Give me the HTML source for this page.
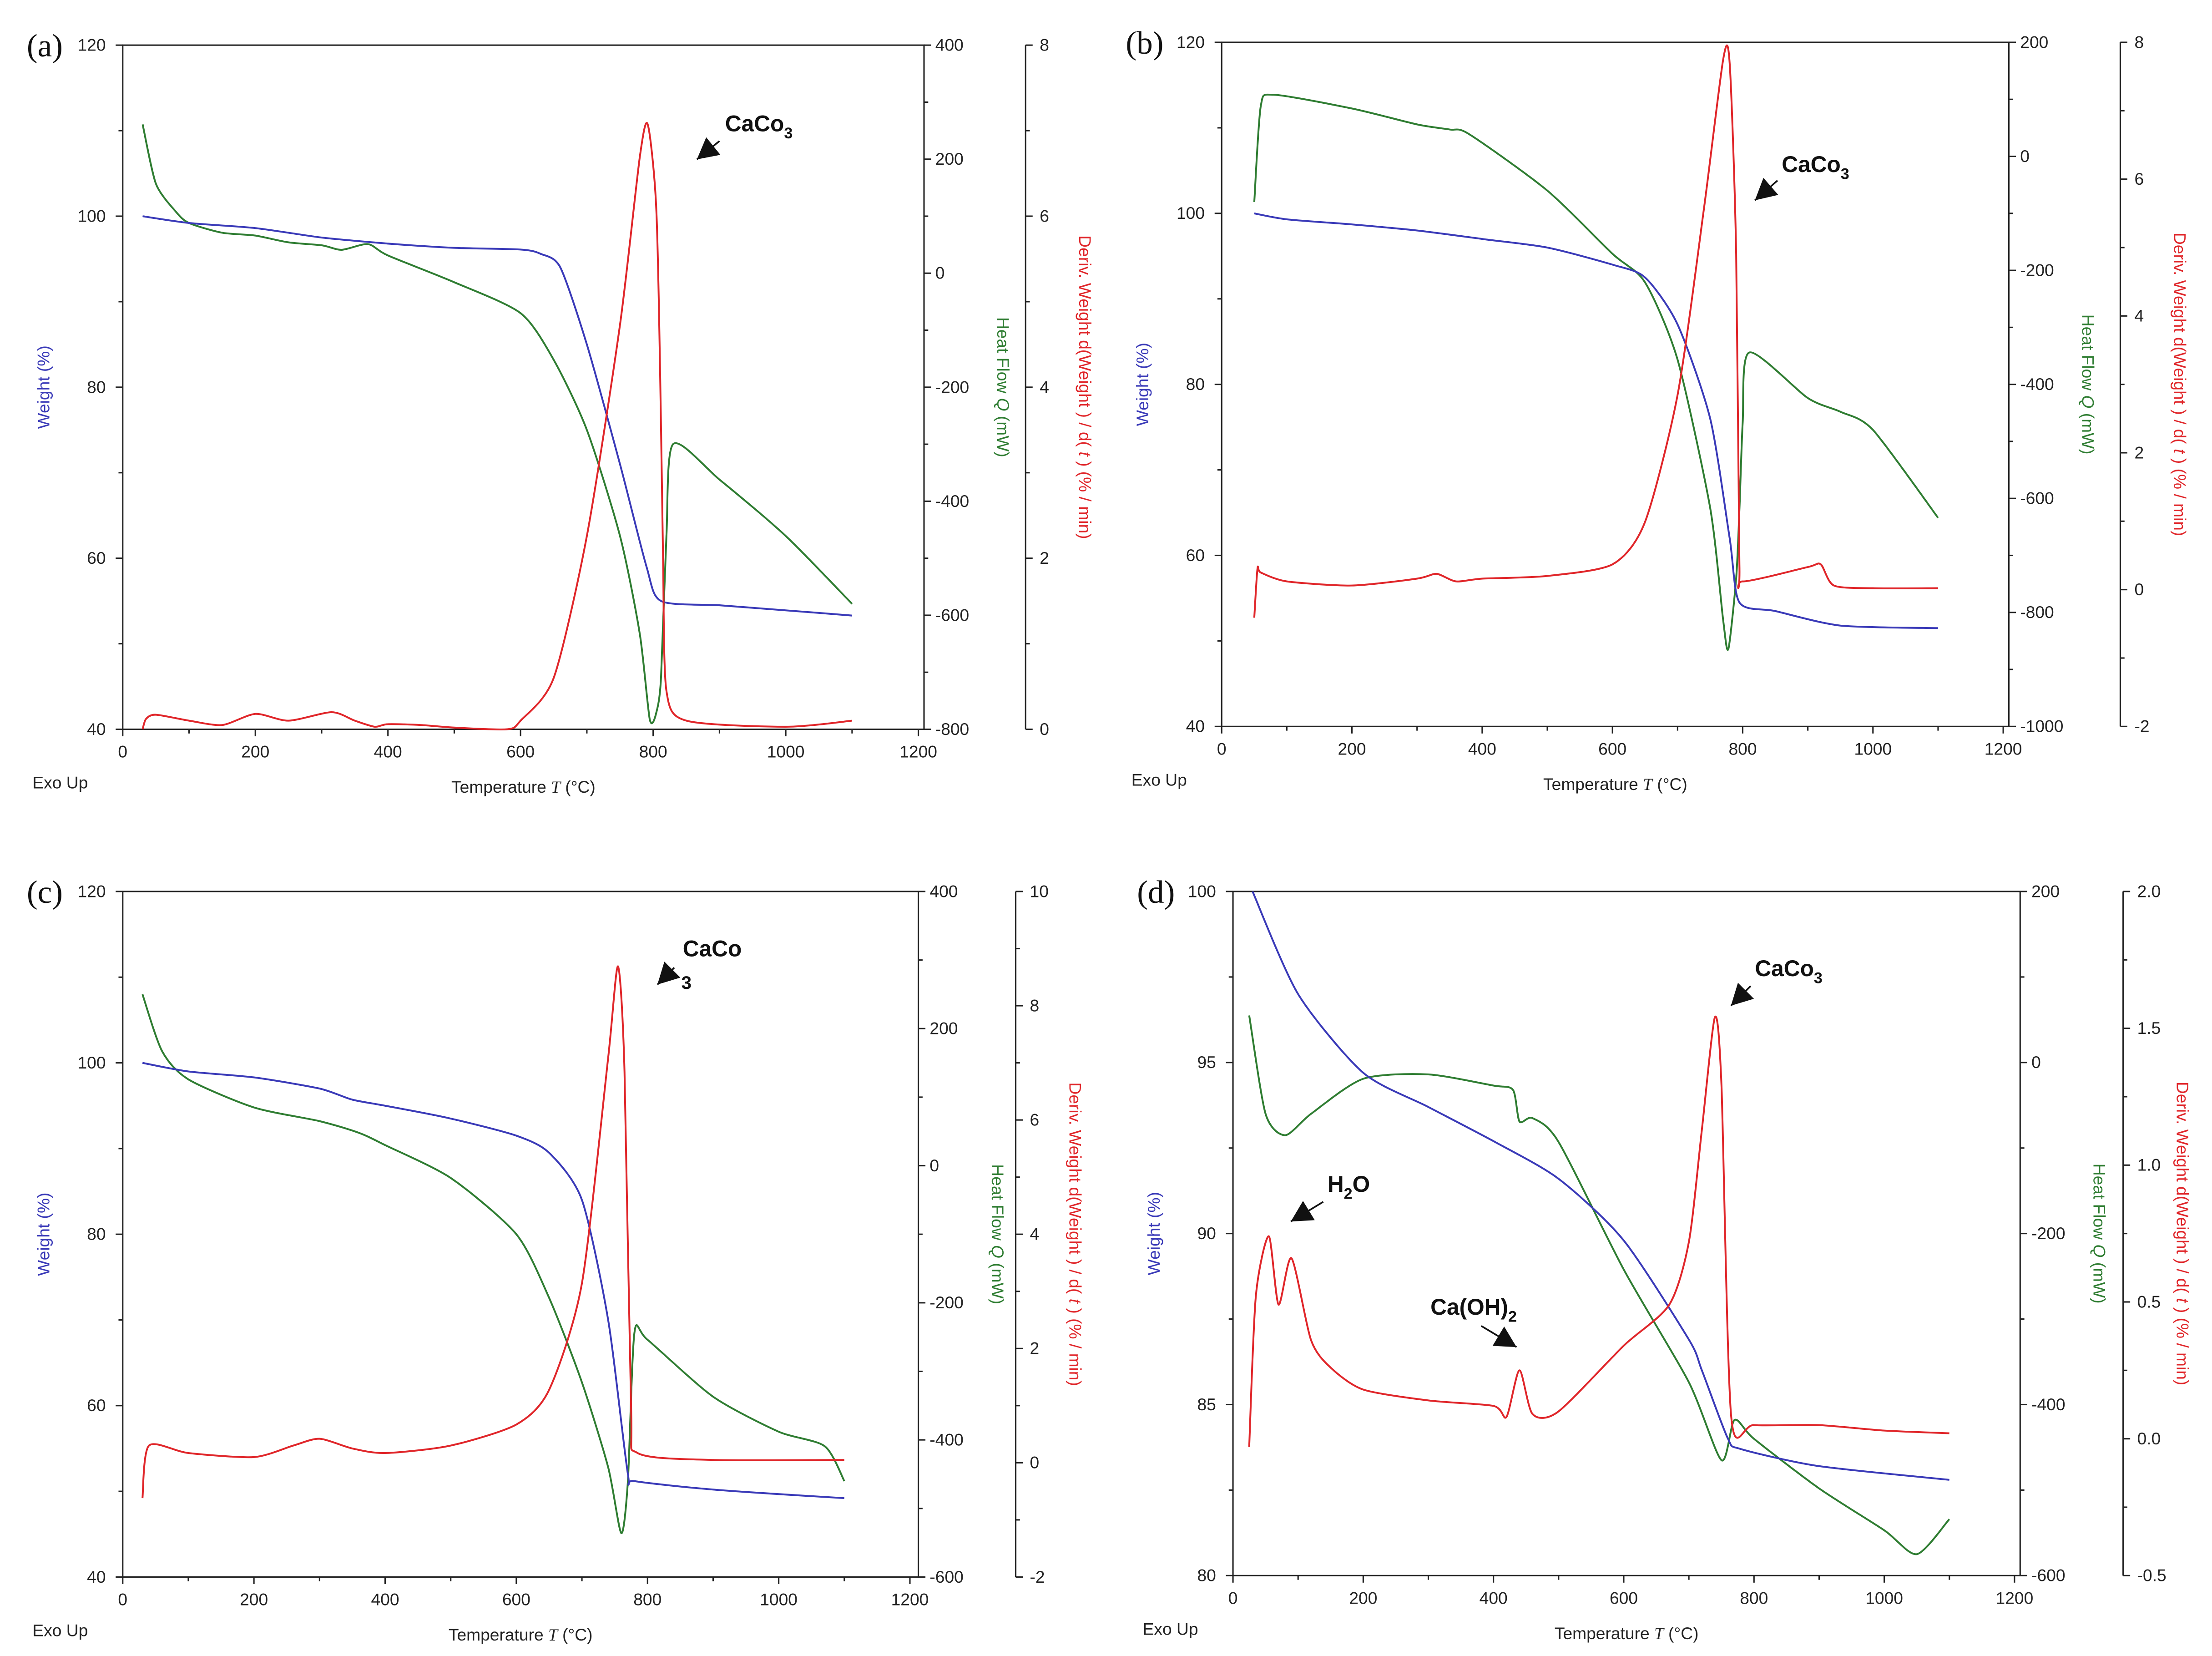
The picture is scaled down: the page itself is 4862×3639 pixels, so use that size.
<!DOCTYPE html>
<html><head><meta charset="utf-8"><style>
html,body{margin:0;padding:0;background:#fff}
svg{display:block}
</style></head><body>
<svg id="fig" xmlns="http://www.w3.org/2000/svg" width="4862" height="3639" viewBox="0 0 1568 1174" preserveAspectRatio="none" font-family="Liberation Sans, sans-serif">
<rect x="0" y="0" width="1568" height="1174" fill="#fff"/>
</svg>
<script>
// ---- Panel (a) data ----
const aWT=[30,100,200,300,400,500,600,630,660,700,750,790,812,900,1000,1100];
const aW=[100,99.2,98.6,97.5,96.8,96.3,96.1,95.6,94,85,71,59,55,54.5,53.9,53.3];
const aHT=[30,50,80,100,150,200,250,300,330,370,400,500,600,650,700,750,780,795,805,812,820,830,900,1000,1100];
const aH=[261,157,108,88,71,66,54,49,41,51,31,-16,-70,-152,-275,-461,-634,-783,-770,-708,-461,-300,-362,-461,-580];
const aDT=[30,35,50,100,150,200,250,315,350,380,400,450,500,580,600,650,700,750,780,792,805,812,815,820,850,1000,1100];
const aD=[0,0.12,0.17,0.1,0.05,0.18,0.1,0.2,0.1,0.03,0.06,0.05,0.02,0,0.1,0.6,2.26,4.73,6.7,7.07,6.05,3.5,1.9,0.45,0.1,0.03,0.1];
// ---- Panel (b) data ----
const bWT=[50,100,200,300,400,500,600,650,700,750,780,795,850,950,1100];
const bW=[100,99.3,98.7,98,97,96,94,92.5,87,76,62,54.5,53.5,51.8,51.5];
const bHT=[50,60,80,200,300,350,380,500,600,650,700,750,770,778,790,795,800,810,900,950,1000,1100];
const bH=[-80,88,108,84,56,47,39,-60,-171,-221,-357,-617,-814,-864,-740,-620,-468,-344,-424,-448,-480,-634];
const bDT=[50,55,60,100,200,300,330,360,400,500,600,650,700,740,770,780,790,795,800,900,920,940,1000,1100];
const bD=[-0.41,0.31,0.25,0.12,0.06,0.16,0.23,0.12,0.16,0.2,0.37,0.99,2.85,5.53,7.75,7.69,4.9,0.37,0.12,0.33,0.37,0.06,0.02,0.02];
// ---- Panel (c) data ----
const cWT=[30,100,200,300,350,400,500,600,650,700,740,770,780,900,1100];
const cW=[100,99,98.3,97,95.7,95,93.5,91.5,89.5,84,70,52,51.2,50.2,49.2];
const cHT=[30,60,100,200,300,360,400,500,600,650,700,740,760,770,780,800,900,1000,1070,1100];
const cH=[250,167,126,85,65,48,30,-18,-100,-193,-316,-440,-536,-460,-244,-254,-337,-388,-409,-460];
const cDT=[30,40,100,200,260,300,350,400,500,600,650,700,740,755,765,775,785,900,1100];
const cD=[-0.62,0.3,0.17,0.1,0.3,0.42,0.25,0.17,0.3,0.67,1.28,3.14,7.09,8.69,6.84,0.91,0.17,0.05,0.05];
// ---- Panel (d) data ----
const dWT=[30,100,200,300,400,500,600,700,720,760,780,900,1100];
const dW=[100,97,94.7,93.7,92.7,91.6,89.8,86.9,86,84,83.7,83.2,82.8];
const dHT=[25,50,80,120,200,300,400,430,440,460,500,600,700,750,770,800,900,1000,1050,1100];
const dH=[55,-60,-85,-60,-19,-14,-27,-32,-69,-65,-93,-242,-374,-465,-418,-440,-498,-547,-575,-534];
const dDT=[25,35,55,70,90,120,150,200,300,400,420,440,460,500,600,670,700,720,740,750,765,800,900,1000,1100];
const dD=[-0.03,0.52,0.74,0.49,0.66,0.36,0.26,0.18,0.14,0.12,0.08,0.25,0.09,0.1,0.34,0.49,0.72,1.13,1.54,1.29,0.08,0.05,0.05,0.03,0.02];

const NS='http://www.w3.org/2000/svg';
const svg=document.getElementById('fig');
function el(tag,attrs,parent){const e=document.createElementNS(NS,tag);for(const k in attrs)e.setAttribute(k,attrs[k]);(parent||svg).appendChild(e);return e;}
function txt(s,attrs,parent){const e=el('text',attrs,parent);e.textContent=s;return e;}
const BLUE='#3a3ab8',GREEN='#2f7d32',RED='#e0262a';

function smoothPath(pts){
  let d='M'+pts[0][0].toFixed(1)+','+pts[0][1].toFixed(1);
  for(let i=0;i<pts.length-1;i++){
    const p0=pts[Math.max(0,i-1)],p1=pts[i],p2=pts[i+1],p3=pts[Math.min(pts.length-1,i+2)];
    const k=1/8;
    const c1=[p1[0]+(p2[0]-p0[0])*k,p1[1]+(p2[1]-p0[1])*k];
    const c2=[p2[0]-(p3[0]-p1[0])*k,p2[1]-(p3[1]-p1[1])*k];
    d+='C'+c1[0].toFixed(1)+','+c1[1].toFixed(1)+' '+c2[0].toFixed(1)+','+c2[1].toFixed(1)+' '+p2[0].toFixed(1)+','+p2[1].toFixed(1);
  }
  return d;
}

function panel(p){
  const g=el('g',{});
  
  
  const sx=t=>p.x0+(t-0)/1200*(p.x1-p.x0);
  const syL=v=>p.yb-(v-p.lmin)/(p.lmax-p.lmin)*(p.yb-p.yt);
  const syH=v=>p.yb-(v-p.hmin)/(p.hmax-p.hmin)*(p.yb-p.yt);
  const syD=v=>p.yb-(v-p.dmin)/(p.dmax-p.dmin)*(p.yb-p.yt);
  const box=el('rect',{x:p.x0,y:p.yt,width:p.bx1-p.x0,height:p.yb-p.yt,fill:'none',stroke:'#222','stroke-width':1},g);
  
  
  for(let t=0;t<=1200;t+=100){const X=sx(t);el('line',{x1:X,y1:p.yb,x2:X,y2:p.yb+(t%200?3:5),stroke:'#222'},g);
    if(t%200===0){const l=txt(String(t),{x:X,y:p.yb+20,'font-size':12,'text-anchor':'middle',fill:'#222'},g);}}
  const ln=(p.lmax-p.lmin)/p.lstep;
  for(let i=0;i<=ln*2;i++){const v=p.lmin+i*p.lstep/2;const Y=syL(v);el('line',{x1:p.x0-(i%2?3:5),y1:Y,x2:p.x0,y2:Y,stroke:'#222'},g);
    if(i%2===0){const l=txt(String(v),{x:p.x0-12,y:Y+4,'font-size':12,'text-anchor':'end',fill:'#222'},g);}}
  const hn=(p.hmax-p.hmin)/p.hstep;
  for(let i=0;i<=hn*2;i++){const v=p.hmin+i*p.hstep/2;const Y=syH(v);el('line',{x1:p.bx1,y1:Y,x2:p.bx1+(i%2?3:5),y2:Y,stroke:'#222'},g);
    if(i%2===0){const l=txt(String(v),{x:p.bx1+8,y:Y+4,'font-size':12,fill:'#222'},g);}}
  el('line',{x1:p.dx,y1:p.yt,x2:p.dx,y2:p.yb,stroke:'#222'},g);
  const dn=Math.round((p.dmax-p.dmin)/p.dstep);
  for(let i=0;i<=dn*2;i++){const v=p.dmin+i*p.dstep/2;const Y=syD(v);el('line',{x1:p.dx,y1:Y,x2:p.dx+(i%2?3:5),y2:Y,stroke:'#222'},g);
    if(i%2===0){const l=txt(p.dfmt(v),{x:p.dx+10,y:Y+4,'font-size':12,fill:'#222'},g);}}
  function series(T,V,sy,col,name){const pts=T.map((t,i)=>[sx(t),sy(V[i])]);
    const pth=el('path',{d:smoothPath(pts),fill:'none',stroke:col,'stroke-width':1.3,'stroke-linejoin':'round'},g);
    }
  series(p.HT,p.H,syH,GREEN,'heat-flow-line');
  series(p.WT,p.W,syL,BLUE,'weight-line');
  series(p.DT,p.D,syD,RED,'deriv-weight-line');
  const pl=txt('('+p.id+')',{x:p.x0-68,y:p.yt+8,'font-size':23,'font-family':'Liberation Serif, serif',fill:'#111'},g);
  
  const my=(p.yt+p.yb)/2;
  const wl=txt('Weight  (%)',{x:p.x0-52,y:my,'font-size':12,fill:BLUE,'text-anchor':'middle',transform:'rotate(-90 '+(p.x0-52)+' '+my+')'},g);
  
  const hx=p.bx1+52;
  const hl=el('text',{x:hx,y:my,'font-size':12,fill:GREEN,'text-anchor':'middle',transform:'rotate(90 '+hx+' '+my+')'},g);
  hl.innerHTML='Heat Flow  <tspan font-style="italic">Q</tspan>  (mW)';
  
  const rx=p.dx+38;
  const rl=el('text',{x:rx,y:my,'font-size':12,fill:RED,'text-anchor':'middle',transform:'rotate(90 '+rx+' '+my+')'},g);
  rl.innerHTML='Deriv. Weight d(Weight ) / d( <tspan font-style="italic">t</tspan> )  (% / min)';
  
  const xl=el('text',{x:(p.x0+p.bx1)/2,y:p.yb+45,'font-size':12,fill:'#222','text-anchor':'middle'},g);
  xl.innerHTML='Temperature  <tspan font-style="italic" font-family="Liberation Serif, serif">T</tspan>  (°C)';
  
  const ex=txt('Exo Up',{x:p.x0-64,y:p.yb+42,'font-size':12,fill:'#222'},g);
  
  return g;
}
function arrow(x1,y1,x2,y2,parent){
  if(x1===x2&&y1===y2)return;
  el('line',{x1:x1,y1:y1,x2:x2,y2:y2,stroke:'#111','stroke-width':1.2},parent);
  const a=Math.atan2(y2-y1,x2-x1),L=15,W=8;
  const bx=x2-L*Math.cos(a),by=y2-L*Math.sin(a);
  el('polygon',{points:x2+','+y2+' '+(bx+W*Math.sin(a))+','+(by-W*Math.cos(a))+' '+(bx-W*Math.sin(a))+','+(by+W*Math.cos(a)),fill:'#111'},parent);
}
function annot(label,tx,ty,ax1,ay1,ax2,ay2,name){
  const g=el('g',{});
  
  const t=el('text',{x:tx,y:ty,'font-size':16,'font-weight':'bold',fill:'#111'},g);
  t.innerHTML=label;
  arrow(ax1,ay1,ax2,ay2,g);
}
const f0=v=>String(Math.round(v*10)/10);
panel({id:'a',x0:87,x1:651,bx1:655,yt:32,yb:517,lmin:40,lmax:120,lstep:20,hmin:-800,hmax:400,hstep:200,dx:727,dmin:0,dmax:8,dstep:2,dfmt:f0,WT:aWT,W:aW,HT:aHT,H:aH,DT:aDT,D:aD});
panel({id:'b',x0:866,x1:1420,bx1:1424,yt:30,yb:515,lmin:40,lmax:120,lstep:20,hmin:-1000,hmax:200,hstep:200,dx:1503,dmin:-2,dmax:8,dstep:2,dfmt:f0,WT:bWT,W:bW,HT:bHT,H:bH,DT:bDT,D:bD});
panel({id:'c',x0:87,x1:645,bx1:651,yt:632,yb:1118,lmin:40,lmax:120,lstep:20,hmin:-600,hmax:400,hstep:200,dx:720,dmin:-2,dmax:10,dstep:2,dfmt:f0,WT:cWT,W:cW,HT:cHT,H:cH,DT:cDT,D:cD});
panel({id:'d',x0:874,x1:1428,bx1:1432,yt:632,yb:1117,lmin:80,lmax:100,lstep:5,hmin:-600,hmax:200,hstep:200,dx:1505,dmin:-0.5,dmax:2.0,dstep:0.5,dfmt:v=>v.toFixed(1),WT:dWT,W:dW,HT:dHT,H:dH,DT:dDT,D:dD});
annot('CaCo<tspan font-size="11" dy="5">3</tspan>',514,93,510,100,494,113,'annotation-caco3-a');
annot('CaCo<tspan font-size="11" dy="5">3</tspan>',1263,122,1260,128,1244,142,'annotation-caco3-b');
annot('CaCo',484,678,478,686,466,698,'annotation-caco3-c');
annot('<tspan font-size="13">3</tspan>',483,701,0,0,0,0,'annotation-caco3-c-sub');
annot('CaCo<tspan font-size="11" dy="5">3</tspan>',1244,692,1241,699,1227,713,'annotation-caco3-d');
annot('H<tspan font-size="11" dy="5">2</tspan><tspan dy="-5">O</tspan>',941,845,938,852,915,866,'annotation-h2o');
annot('Ca(OH)<tspan font-size="11" dy="5">2</tspan>',1014,932,1050,940,1075,955,'annotation-caoh2');
</script>
</body></html>
